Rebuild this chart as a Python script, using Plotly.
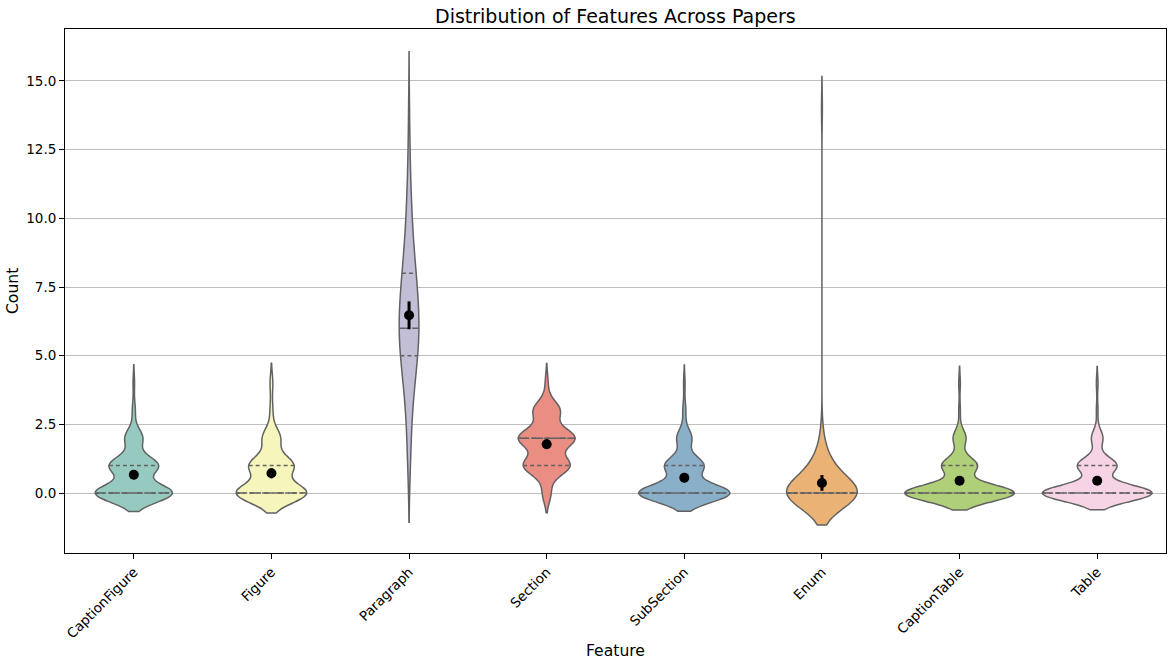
import colorsys
import numpy as np
import plotly.graph_objects as go

features = ["CaptionFigure", "Figure", "Paragraph", "Section",
            "SubSection", "Enum", "CaptionTable", "Table"]

# count value per paper -> how many papers have it (100 papers)
caption_figure_values = [0, 1, 2, 3, 4]
caption_figure_papers = [52, 33, 12, 2, 1]

figure_values = [0, 1, 2, 3, 4]
figure_papers = [51, 32, 13, 2, 2]

paragraph_values = [1, 2, 3, 4, 5, 6, 7, 8, 9, 10, 11, 12, 13, 14]
paragraph_papers = [3, 3, 5, 9, 15, 19, 15, 12, 7, 5, 3, 2, 1, 1]

section_values = [0, 1, 2, 3, 4]
section_papers = [6, 33, 40, 19, 2]

subsection_values = [0, 1, 2, 3, 4]
subsection_papers = [61, 26, 10, 2, 1]

enum_values = [0, 1, 2, 14]
enum_papers = [79, 17, 3, 1]

caption_table_values = [0, 1, 2, 3, 4]
caption_table_papers = [68, 22, 8, 1, 1]

table_values = [0, 1, 2, 3, 4]
table_papers = [67, 24, 7, 1, 1]

set3 = ["#8dd3c7", "#ffffb3", "#bebada", "#fb8072",
        "#80b1d3", "#fdb462", "#b3de69", "#fccde5"]

tables = [
    (caption_figure_values, caption_figure_papers),
    (figure_values, figure_papers),
    (paragraph_values, paragraph_papers),
    (section_values, section_papers),
    (subsection_values, subsection_papers),
    (enum_values, enum_papers),
    (caption_table_values, caption_table_papers),
    (table_values, table_papers),
]
samples = [np.repeat(v, c).astype(float) for v, c in tables]


def desaturate(hexcol, prop=0.75):
    r, g, b = (int(hexcol[i:i + 2], 16) / 255 for i in (1, 3, 5))
    h, l, s = colorsys.rgb_to_hls(r, g, b)
    r, g, b = colorsys.hls_to_rgb(h, l, s * prop)
    return "rgb(%d,%d,%d)" % (round(r * 255), round(g * 255), round(b * 255))


def kde(data, bw, y):
    z = (np.asarray(y)[:, None] - data[None, :]) / bw
    return np.exp(-0.5 * z ** 2).sum(axis=1) / (len(data) * bw * np.sqrt(2 * np.pi))


gray = "#626262"
half = 0.4
bws = [d.std(ddof=1) * len(d) ** -0.2 for d in samples]
gmax = max(kde(d, bw, np.linspace(d.min() - 2 * bw, d.max() + 2 * bw, 600)).max()
           for d, bw in zip(samples, bws))

fig = go.Figure()
for i, (name, d, bw) in enumerate(zip(features, samples, bws)):
    # same number of papers everywhere, so one scale group = equal areas
    fig.add_trace(go.Violin(
        x=np.full(len(d), i), y=d, name=name,
        fillcolor=desaturate(set3[i]), line=dict(color=gray, width=1.5),
        bandwidth=bw, spanmode="soft", scalegroup="all", scalemode="count",
        points=False, box_visible=False, meanline_visible=False,
        showlegend=False, hoveron="violins"))

    q1, med, q3 = np.percentile(d, [25, 50, 75])
    for q, dash in ((q1, "4px,3px"), (med, "9px,4px"), (q3, "4px,3px")):
        hw = half * kde(d, bw, [q])[0] / gmax
        fig.add_trace(go.Scatter(
            x=[i - hw, i + hw], y=[q, q], mode="lines",
            line=dict(color=gray, width=1.5, dash=dash),
            showlegend=False, hoverinfo="skip"))

means = [d.mean() for d in samples]
cis = [1.96 * d.std(ddof=1) / np.sqrt(len(d)) for d in samples]
fig.add_trace(go.Scatter(
    x=list(range(len(features))), y=means, mode="markers",
    marker=dict(color="black", size=10),
    error_y=dict(type="data", array=cis, color="black", thickness=3, width=0),
    showlegend=False))

axis_font = dict(family="DejaVu Sans", size=13.5, color="black")
fig.update_layout(
    width=1173, height=666,
    margin=dict(l=65, r=7, t=29, b=113, autoexpand=False),
    paper_bgcolor="white", plot_bgcolor="white",
    violinmode="overlay", violingap=0.2, violingroupgap=0,
    font=dict(family="DejaVu Sans", color="black"),
    annotations=[
        dict(text="Distribution of Features Across Papers", xref="paper", yref="paper",
             x=0.5, y=1.0248, xanchor="center", yanchor="middle", showarrow=False,
             font=dict(size=19, color="black")),
        dict(text="Feature", xref="paper", yref="paper", x=0.5, y=-0.187,
             xanchor="center", yanchor="middle", showarrow=False,
             font=dict(size=15.6, color="black")),
        dict(text="Count", xref="paper", yref="paper", x=-0.0472, y=0.5,
             xanchor="center", yanchor="middle", textangle=-90, showarrow=False,
             font=dict(size=15.6, color="black")),
    ],
)
fig.update_xaxes(
    range=[-0.5, 7.5], tickvals=list(range(len(features))), ticktext=features,
    tickangle=-45, tickfont=axis_font, ticks="outside", ticklen=5,
    tickcolor="black", showline=True, linecolor="black", linewidth=1, mirror=True,
    showgrid=False, zeroline=False, automargin=False)
fig.update_yaxes(
    range=[-2.18, 16.89], tick0=0, dtick=2.5, tickformat=".1f",
    tickfont=axis_font, ticks="outside", ticklen=5, tickcolor="black",
    showline=True, linecolor="black", linewidth=1, mirror=True,
    showgrid=True, gridcolor="#bdbdbd", gridwidth=1, zeroline=False, automargin=False)

# the page's default body margin would shift the figure by 8px
fig.write_html("out.html", config={"displayModeBar": False},
               post_script="document.body.style.margin='0';")
